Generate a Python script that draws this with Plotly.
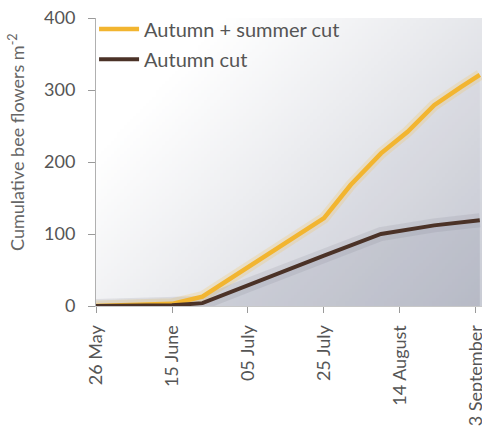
import base64, struct, zlib
import numpy as np
import plotly.graph_objects as go

# ---- data ----
dates_summer = ["2013-05-26", "2013-06-15", "2013-06-23", "2013-07-25", "2013-08-01",
                "2013-08-09", "2013-08-16", "2013-08-23", "2013-08-30", "2013-09-04"]
summer_cut = [0, 3, 13, 122, 168, 212, 242, 279, 304, 321]

dates_autumn = ["2013-05-26", "2013-06-15", "2013-06-23", "2013-07-05", "2013-07-25",
                "2013-08-09", "2013-08-23", "2013-09-04"]
autumn_cut = [0, 1, 4, 29, 70, 100, 112, 119]

tick_dates = ["2013-05-26", "2013-06-15", "2013-07-05", "2013-07-25", "2013-08-14", "2013-09-03"]
tick_labels = ["26 May", "15 June", "05 July", "25 July", "14 August", "3 September"]

ORANGE = "#F2B530"
BROWN = "#4B3227"
FONT = "Lato"


# ---- background gradient image (style only) ----
def make_png(arr):
    h, w, _ = arr.shape
    raw = b"".join(b"\x00" + arr[r].tobytes() for r in range(h))

    def chunk(tag, data):
        c = struct.pack(">I", len(data)) + tag + data
        return c + struct.pack(">I", zlib.crc32(tag + data) & 0xFFFFFFFF)

    return (b"\x89PNG\r\n\x1a\n" + chunk(b"IHDR", struct.pack(">IIBBBBB", w, h, 8, 2, 0, 0, 0))
            + chunk(b"IDAT", zlib.compress(raw, 9)) + chunk(b"IEND", b""))


W, H = 120, 90
u = np.linspace(0, 1, W)[None, :]
v = np.linspace(0, 1, H)[:, None]
t = np.clip(0.65 * u + 0.45 * v - 0.22, 0, 1) ** 1.05
dark = np.array([194, 197, 207], dtype=float)
img = (255 * (1 - t[..., None]) + dark * t[..., None]).clip(0, 255).astype(np.uint8)
src = "data:image/png;base64," + base64.b64encode(make_png(img)).decode()

fig = go.Figure()

# soft fills / glows
fig.add_trace(go.Scatter(x=dates_summer, y=summer_cut, mode="lines", fill="tozeroy",
                         fillcolor="rgba(150,155,172,0.09)", line=dict(width=0),
                         showlegend=False, hoverinfo="skip"))
fig.add_trace(go.Scatter(x=dates_autumn, y=autumn_cut, mode="lines", fill="tozeroy",
                         fillcolor="rgba(125,131,152,0.19)", line=dict(width=0),
                         showlegend=False, hoverinfo="skip"))
fig.add_trace(go.Scatter(x=dates_summer, y=summer_cut, mode="lines",
                         line=dict(color="rgba(245,190,70,0.22)", width=11),
                         showlegend=False, hoverinfo="skip"))
fig.add_trace(go.Scatter(x=dates_autumn, y=autumn_cut, mode="lines",
                         line=dict(color="rgba(110,110,130,0.14)", width=14),
                         showlegend=False, hoverinfo="skip"))

fig.add_trace(go.Scatter(x=dates_summer, y=summer_cut, mode="lines", name="Autumn + summer cut",
                         line=dict(color=ORANGE, width=4.5), legend="legend"))
fig.add_trace(go.Scatter(x=dates_autumn, y=autumn_cut, mode="lines", name="Autumn cut",
                         line=dict(color=BROWN, width=4), legend="legend2"))

legend_common = dict(font=dict(family=FONT, size=20, color="#555555"), bgcolor="rgba(0,0,0,0)",
                     xanchor="left", yanchor="middle", itemwidth=40, borderwidth=0)

fig.update_layout(
    width=482, height=431,
    margin=dict(l=96, r=0, t=18, b=125, autoexpand=False),
    paper_bgcolor="white", plot_bgcolor="white",
    font=dict(family=FONT, color="#555555"),
    images=[dict(source=src, xref="paper", yref="paper", x=0, y=1, sizex=1, sizey=1,
                 sizing="stretch", layer="below", xanchor="left", yanchor="top")],
    legend=dict(x=-0.005, y=0.962, **legend_common),
    legend2=dict(x=-0.005, y=0.857, **legend_common),
    xaxis=dict(type="date", range=["2013-05-26", "2013-09-04 14:00"],
               tickvals=tick_dates, ticktext=tick_labels, tickangle=-90,
               ticks="outside", ticklen=6, tickcolor="#9a9a9a",
               showline=True, linecolor="#c8c8c8", linewidth=1,
               showgrid=False, zeroline=False, ticklabelstandoff=5,
               ticklabeloverflow="allow", automargin=False,
               tickfont=dict(family=FONT, size=18, color="#555555")),
    yaxis=dict(range=[0, 400], tickvals=[0, 100, 200, 300, 400],
               ticks="outside", ticklen=7, tickcolor="#9a9a9a",
               showline=True, linecolor="#b0b0b0", linewidth=1,
               showgrid=False, zeroline=False, ticklabelstandoff=9,
               ticklabeloverflow="allow", automargin=False,
               tickfont=dict(family=FONT, size=18, color="#555555")),
    annotations=[dict(text="Cumulative bee flowers m<sup>-2</sup>", textangle=-90,
                      xref="paper", yref="paper", x=-0.205, y=0.569,
                      xanchor="center", yanchor="middle", showarrow=False,
                      font=dict(family=FONT, size=18, color="#666666"))],
)

fig.write_html("out.html", config={"displayModeBar": False},
               post_script="document.body.style.margin='0';document.body.style.overflow='hidden';")
